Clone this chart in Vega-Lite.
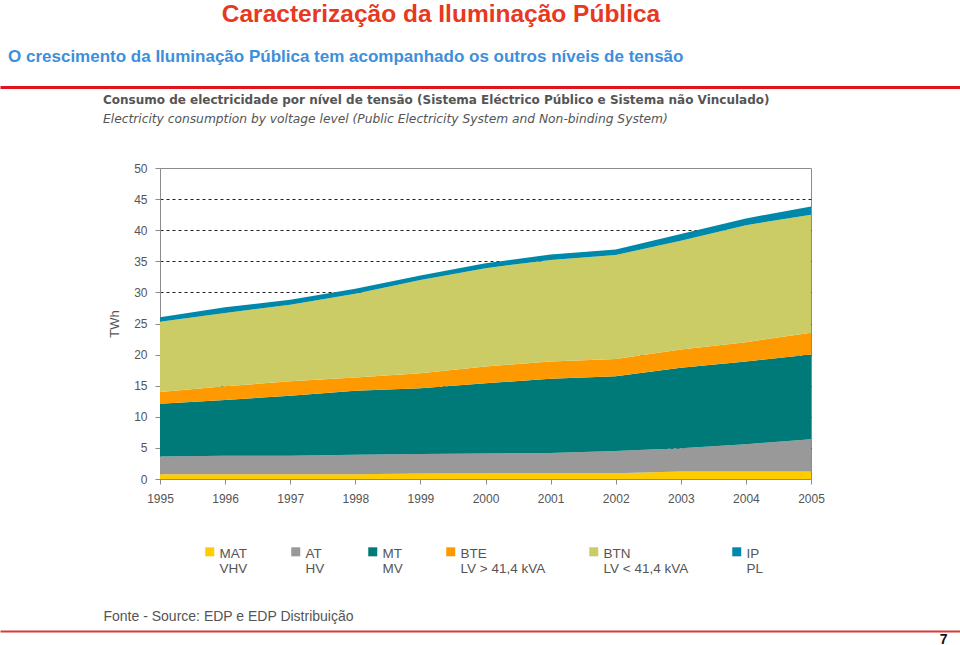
{
  "$schema": "https://vega.github.io/schema/vega-lite/v6.json",
  "background": "white",
  "padding": {"left": 0, "right": 0, "top": 2, "bottom": 0},
  "bounds": "flush",
  "center": true,
  "spacing": 81,
  "title": {
    "text": "Caracterização da Iluminação Pública",
    "anchor": "middle",
    "dx": -44.5,
    "fontSize": 24.5,
    "fontWeight": "bold",
    "color": "#e8381e",
    "font": "Liberation Sans",
    "offset": 20.5
  },
  "config": {
    "view": {"stroke": null},
    "font": "Liberation Sans"
  },
  "vconcat": [
    {
      "width": 971,
      "height": 18,
      "title": {
        "text": "O crescimento da Iluminação Pública tem acompanhado os outros níveis de tensão",
        "anchor": "start",
        "frame": "group",
        "dx": 8,
        "fontSize": 17,
        "fontWeight": "bold",
        "color": "#3d8fdc",
        "font": "Liberation Sans",
        "offset": 3
      },
      "data": {"values": [{"v": 0.5}]},
      "mark": {"type": "point", "opacity": 0, "size": 1},
      "encoding": {
        "x": {
          "field": "v", "type": "quantitative",
          "scale": {"domain": [0, 1], "nice": false},
          "axis": {"domainColor": "#e3131b", "domainWidth": 3, "labels": false, "ticks": false, "grid": false, "title": null}
        }
      }
    },
    {
      "width": 651,
      "height": 311,
      "view": {"stroke": "#8c8c8c", "strokeWidth": 1},
      "title": {
        "text": "Consumo de electricidade por nível de tensão (Sistema Eléctrico Público e Sistema não Vinculado)",
        "subtitle": "Electricity consumption by voltage level (Public Electricity System and Non-binding System)",
        "anchor": "start",
        "frame": "group",
        "dx": -57,
        "offset": 36,
        "font": "DejaVu Sans",
        "fontSize": 12,
        "fontWeight": "bold",
        "color": "#555555",
        "subtitleFont": "DejaVu Sans",
        "subtitleFontSize": 12.25,
        "subtitleFontStyle": "italic",
        "subtitleColor": "#555555",
        "subtitlePadding": 6
      },
      "data": {
        "values": [
          {"ano": 1995, "nivel": "MAT", "twh": 0.75, "ord": 1},
          {"ano": 1995, "nivel": "AT", "twh": 2.85, "ord": 2},
          {"ano": 1995, "nivel": "MT", "twh": 8.5, "ord": 3},
          {"ano": 1995, "nivel": "BTE", "twh": 1.9, "ord": 4},
          {"ano": 1995, "nivel": "BTN", "twh": 11.3, "ord": 5},
          {"ano": 1995, "nivel": "IP", "twh": 0.7, "ord": 6},
          {"ano": 1996, "nivel": "MAT", "twh": 0.75, "ord": 1},
          {"ano": 1996, "nivel": "AT", "twh": 3.0, "ord": 2},
          {"ano": 1996, "nivel": "MT", "twh": 8.95, "ord": 3},
          {"ano": 1996, "nivel": "BTE", "twh": 2.2, "ord": 4},
          {"ano": 1996, "nivel": "BTN", "twh": 11.8, "ord": 5},
          {"ano": 1996, "nivel": "IP", "twh": 0.9, "ord": 6},
          {"ano": 1997, "nivel": "MAT", "twh": 0.75, "ord": 1},
          {"ano": 1997, "nivel": "AT", "twh": 3.0, "ord": 2},
          {"ano": 1997, "nivel": "MT", "twh": 9.65, "ord": 3},
          {"ano": 1997, "nivel": "BTE", "twh": 2.3, "ord": 4},
          {"ano": 1997, "nivel": "BTN", "twh": 12.3, "ord": 5},
          {"ano": 1997, "nivel": "IP", "twh": 0.8, "ord": 6},
          {"ano": 1998, "nivel": "MAT", "twh": 0.75, "ord": 1},
          {"ano": 1998, "nivel": "AT", "twh": 3.15, "ord": 2},
          {"ano": 1998, "nivel": "MT", "twh": 10.3, "ord": 3},
          {"ano": 1998, "nivel": "BTE", "twh": 2.1, "ord": 4},
          {"ano": 1998, "nivel": "BTN", "twh": 13.5, "ord": 5},
          {"ano": 1998, "nivel": "IP", "twh": 0.8, "ord": 6},
          {"ano": 1999, "nivel": "MAT", "twh": 0.9, "ord": 1},
          {"ano": 1999, "nivel": "AT", "twh": 3.1, "ord": 2},
          {"ano": 1999, "nivel": "MT", "twh": 10.6, "ord": 3},
          {"ano": 1999, "nivel": "BTE", "twh": 2.4, "ord": 4},
          {"ano": 1999, "nivel": "BTN", "twh": 15.0, "ord": 5},
          {"ano": 1999, "nivel": "IP", "twh": 0.7, "ord": 6},
          {"ano": 2000, "nivel": "MAT", "twh": 0.92, "ord": 1},
          {"ano": 2000, "nivel": "AT", "twh": 3.18, "ord": 2},
          {"ano": 2000, "nivel": "MT", "twh": 11.3, "ord": 3},
          {"ano": 2000, "nivel": "BTE", "twh": 2.7, "ord": 4},
          {"ano": 2000, "nivel": "BTN", "twh": 15.8, "ord": 5},
          {"ano": 2000, "nivel": "IP", "twh": 0.8, "ord": 6},
          {"ano": 2001, "nivel": "MAT", "twh": 0.92, "ord": 1},
          {"ano": 2001, "nivel": "AT", "twh": 3.28, "ord": 2},
          {"ano": 2001, "nivel": "MT", "twh": 11.9, "ord": 3},
          {"ano": 2001, "nivel": "BTE", "twh": 2.8, "ord": 4},
          {"ano": 2001, "nivel": "BTN", "twh": 16.3, "ord": 5},
          {"ano": 2001, "nivel": "IP", "twh": 0.9, "ord": 6},
          {"ano": 2002, "nivel": "MAT", "twh": 0.92, "ord": 1},
          {"ano": 2002, "nivel": "AT", "twh": 3.58, "ord": 2},
          {"ano": 2002, "nivel": "MT", "twh": 12.0, "ord": 3},
          {"ano": 2002, "nivel": "BTE", "twh": 2.8, "ord": 4},
          {"ano": 2002, "nivel": "BTN", "twh": 16.7, "ord": 5},
          {"ano": 2002, "nivel": "IP", "twh": 0.9, "ord": 6},
          {"ano": 2003, "nivel": "MAT", "twh": 1.2, "ord": 1},
          {"ano": 2003, "nivel": "AT", "twh": 3.75, "ord": 2},
          {"ano": 2003, "nivel": "MT", "twh": 12.95, "ord": 3},
          {"ano": 2003, "nivel": "BTE", "twh": 2.9, "ord": 4},
          {"ano": 2003, "nivel": "BTN", "twh": 17.5, "ord": 5},
          {"ano": 2003, "nivel": "IP", "twh": 1.1, "ord": 6},
          {"ano": 2004, "nivel": "MAT", "twh": 1.2, "ord": 1},
          {"ano": 2004, "nivel": "AT", "twh": 4.4, "ord": 2},
          {"ano": 2004, "nivel": "MT", "twh": 13.3, "ord": 3},
          {"ano": 2004, "nivel": "BTE", "twh": 3.1, "ord": 4},
          {"ano": 2004, "nivel": "BTN", "twh": 18.8, "ord": 5},
          {"ano": 2004, "nivel": "IP", "twh": 1.1, "ord": 6},
          {"ano": 2005, "nivel": "MAT", "twh": 1.2, "ord": 1},
          {"ano": 2005, "nivel": "AT", "twh": 5.2, "ord": 2},
          {"ano": 2005, "nivel": "MT", "twh": 13.6, "ord": 3},
          {"ano": 2005, "nivel": "BTE", "twh": 3.5, "ord": 4},
          {"ano": 2005, "nivel": "BTN", "twh": 19.0, "ord": 5},
          {"ano": 2005, "nivel": "IP", "twh": 1.3, "ord": 6}
        ]
      },
      "mark": {"type": "area", "opacity": 1, "interpolate": "linear"},
      "encoding": {
        "x": {
          "field": "ano", "type": "quantitative",
          "scale": {"domain": [1995, 2005], "nice": false, "zero": false},
          "axis": {
            "values": [1995, 1996, 1997, 1998, 1999, 2000, 2001, 2002, 2003, 2004, 2005],
            "format": "d",
            "grid": false,
            "domainColor": "#8c8c8c",
            "tickColor": "#8c8c8c",
            "tickSize": 5,
            "labelFontSize": 12,
            "labelColor": "#555555",
            "labelPadding": 9,
            "labelFlush": false,
            "labelOverlap": false,
            "title": "Fonte - Source: EDP e EDP Distribuição",
            "titleX": -57,
            "titleY": 141,
            "titleAlign": "left",
            "titleBaseline": "alphabetic",
            "titleFontSize": 14,
            "titleFontWeight": "normal",
            "titleColor": "#555555"
          }
        },
        "y": {
          "field": "twh", "type": "quantitative", "stack": "zero",
          "scale": {"domain": [0, 50], "nice": false},
          "axis": {
            "values": [0, 5, 10, 15, 20, 25, 30, 35, 40, 45, 50],
            "grid": true,
            "gridColor": "#222222",
            "gridDash": [3, 3],
            "gridOpacity": {"condition": {"test": "datum.value == 0 || datum.value == 50", "value": 0}, "value": 1},
            "domainColor": "#8c8c8c",
            "tickColor": "#8c8c8c",
            "tickSize": 5,
            "labelFontSize": 12,
            "labelColor": "#555555",
            "labelPadding": 8,
            "title": "TWh",
            "titleFontWeight": "normal",
            "titleFontSize": 13,
            "titleColor": "#555555",
            "titlePadding": 12
          }
        },
        "color": {
          "field": "nivel", "type": "nominal",
          "scale": {
            "domain": ["MAT", "AT", "MT", "BTE", "BTN", "IP"],
            "range": ["#ffcc00", "#999999", "#007a78", "#ff9900", "#cccc66", "#0088aa"]
          },
          "legend": {
            "orient": "none",
            "legendX": 203,
            "legendY": 471,
            "direction": "horizontal",
            "columns": 6,
            "columnPadding": 41,
            "title": null,
            "symbolType": "M-1,0.1H1V2.1H-1Z",
            "symbolSize": 81,
            "symbolStrokeWidth": 0,
            "labelFontSize": 13.5,
            "labelColor": "#555555",
            "labelBaseline": "top",
            "labelOffset": 3,
            "labelLimit": 200,
            "labelExpr": "{'MAT': ['MAT', 'VHV'], 'AT': ['AT', 'HV'], 'MT': ['MT', 'MV'], 'BTE': ['BTE', 'LV > 41,4 kVA'], 'BTN': ['BTN', 'LV < 41,4 kVA'], 'IP': ['IP', 'PL']}[datum.label]"
          }
        },
        "order": {"field": "ord", "type": "quantitative"}
      }
    },
    {
      "width": 971,
      "height": 71,
      "data": {"values": [{"v": 0.5}]},
      "mark": {"type": "point", "opacity": 0, "size": 1},
      "encoding": {
        "x": {
          "field": "v", "type": "quantitative",
          "scale": {"domain": [0, 1], "nice": false},
          "axis": {
            "domainColor": "#d63a3a", "domainWidth": 2, "labels": false, "ticks": false, "grid": false,
            "title": "7",
            "titleX": 947,
            "titleY": 12,
            "titleAlign": "right",
            "titleBaseline": "alphabetic",
            "titleFontSize": 14,
            "titleFontWeight": "bold",
            "titleColor": "#111111"
          }
        }
      }
    }
  ]
}
